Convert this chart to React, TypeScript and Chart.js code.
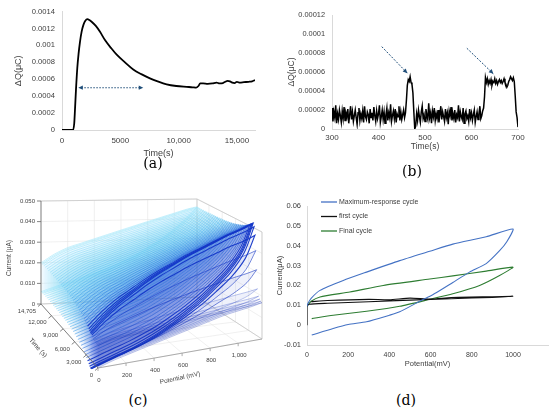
import React, { useEffect, useRef } from "react";
import { Chart, registerables } from "chart.js";

Chart.register(...registerables);

const SANS = "'Liberation Sans', Arial, sans-serif";
const SERIF = "'DejaVu Serif', 'Liberation Serif', serif";
const TEXT = "#404040";
const AXIS = "#d9d9d9";
const ARROW = "#1f4e79";

// ---- (a) charge vs time
const aTime = [0, 500, 950, 1050, 1110, 1200, 1310, 1420, 1540, 1680, 1830, 2000, 2170, 2350, 2540, 2900, 3260, 3700, 4200, 4690, 5400, 6110, 6800, 7540, 8200, 8970, 9800, 10690, 11200, 11500, 11700, 11850, 12100, 12500, 12900, 13260, 13500, 13800, 14000, 14200, 14400, 14600, 14800, 15000, 15250, 15600, 16000, 16300, 16550];
const aCharge = [0, 0, 0, 0.00008, 0.00023, 0.00048, 0.00073, 0.0009, 0.00104, 0.00116, 0.00124, 0.00129, 0.00131, 0.0013, 0.00128, 0.00123, 0.00116, 0.00106, 0.00097, 0.00089, 0.0008, 0.000716, 0.00066, 0.000611, 0.000575, 0.00054, 0.00052, 0.00051, 0.000505, 0.0005, 0.00052, 0.00055, 0.00055, 0.000545, 0.00055, 0.00056, 0.00055, 0.000555, 0.00057, 0.00058, 0.000575, 0.00056, 0.000555, 0.00057, 0.00056, 0.000565, 0.00057, 0.000575, 0.00059];
const aTimeTicks = [0, 5000, 10000, 15000];
const aArrow = { from: 1400, to: 6970, level: 0.0005 };

// ---- (b) charge vs time, sampled every 2 s from 300 s (values in 1e-6 μC)
const bStart = 300;
const bStep = 2;
const bCharge = [
  22, 8, 18, 12, 25, 6, 16, 10, 20, 14, 7, 19, 11, 23, 9, 17, 13, 21, 6, 15,
  24, 10, 18, 8, 14, 20, 12, 5, 17, 22, 9, 16, 11, 19, 7, 24, 13, 10, 18, 15,
  6, 21, 12, 17, 9, 23, 14, 8, 19, 11, 16, 25, 7, 13, 20, 10, 18, 6, 15, 22,
  9, 17, 12, 26, 8, 14, 19, 11, 21, 7, 16, 13, 24, 9, 18, 10, 15, 20, 12, 17,
  30, 46, 52, 50, 55, 49, 47, 38, 18, 0, 3,
  16, 9, 20, 13, 7, 18, 24, 11, 15, 8, 21, 14, 10, 27, 12, 17, 6, 19, 13, 22,
  9, 16, 11, 20, 7, 15, 24, 10, 18, 13, 8, 21, 12, 17, 5, 19, 14, 23, 9, 16,
  11, 20, 7, 15, 12, 25, 8, 18, 13, 10, 22, 6, 16, 19, 11, 14, 8, 21, 12, 17,
  9, 15, 20, 7, 13, 18, 10, 16, 24, 11, 14, 19, 22,
  34, 54, 49, 53, 47, 51, 48, 52, 46, 50, 49, 53, 48, 51, 47, 50, 52, 49, 51, 48,
  50, 53, 49, 47, 44, 46, 50, 52, 55, 53, 51, 54, 50, 35, 18, 12, 2,
];
const bArrows = [
  { x1: 407, y1: 86.7, x2: 462, y2: 58.8 },
  { x1: 590, y1: 85, x2: 647, y2: 58.1 },
];

// ---- (c) 3D cycles: shapes of an early, the maximum and a late cycle
const C_PMAX = 1170;
const C_TMAX = 14705;
const C_IMAX = 0.05;
const cPotential = [0, 100, 200, 300, 400, 500, 600, 700, 800, 900, 1000, 1100, 1170];
const cEarlyUpper = [0.010, 0.0115, 0.012, 0.0125, 0.013, 0.0135, 0.014, 0.0145, 0.015, 0.0155, 0.016, 0.0165, 0.017];
const cEarlyLower = [0.0, 0.002, 0.0035, 0.005, 0.0065, 0.008, 0.0095, 0.011, 0.0125, 0.014, 0.015, 0.016, 0.017];
const cPeakUpper = [0.012, 0.018, 0.023, 0.027, 0.031, 0.0345, 0.0375, 0.0405, 0.043, 0.0455, 0.048, 0.050, 0.052];
const cPeakLower = [-0.004, -0.002, 0.0, 0.002, 0.0045, 0.0075, 0.011, 0.015, 0.0195, 0.025, 0.031, 0.040, 0.052];
const cLateUpper = [0.02, 0.024, 0.027, 0.029, 0.031, 0.033, 0.035, 0.037, 0.039, 0.041, 0.043, 0.045, 0.046];
const cLateLower = [0.006, 0.008, 0.01, 0.012, 0.014, 0.016, 0.019, 0.022, 0.026, 0.03, 0.035, 0.041, 0.046];
const cycleTimes = [0, 250, 500, 750, 1000, 1200, 1400, 1600, 1800, 2000, 2200, 2400, 2700, 3000, 3300, 3600, 4000, 4400, 4800, 5200, 5600, 6000, 6400, 6800, 7200, 7600, 8000, 8400, 8800, 9200, 9600, 10000, 10400, 10800, 11200, 11600, 12000, 12400, 12800, 13200, 13600, 14000, 14300, 14500, 14705];
// 0 = early shape, 1 = maximum, 2 = late shape
const cyclePhase = [0, 0.01, 0.03, 0.06, 0.15, 0.4, 0.65, 0.85, 0.96, 1.0, 1.05, 1.12, 1.2, 1.28, 1.35, 1.42, 1.5, 1.56, 1.62, 1.67, 1.72, 1.76, 1.8, 1.83, 1.86, 1.88, 1.9, 1.92, 1.93, 1.94, 1.95, 1.96, 1.97, 1.97, 1.98, 1.98, 1.99, 1.99, 2, 2, 2, 2, 2, 2, 2];
const cCurrentTicks = [0, 0.01, 0.02, 0.03, 0.04, 0.05];
const cTimeTicks = [0, 3000, 6000, 9000, 12000, 14705];
const cPotentialTicks = [0, 200, 400, 600, 800, 1000];

// ---- (d) cyclic voltammograms
const dPotMax = [23, 127, 200, 289, 400, 450, 547, 586, 627, 708, 789, 870, 935, 970, 1000, 870, 708, 596, 450, 289, 176, 63, 20, 5, 0];
const dCurMax = [-0.005, -0.0017, 0.0003, 0.0017, 0.005, 0.0067, 0.012, 0.014, 0.0163, 0.0215, 0.0267, 0.031, 0.0375, 0.042, 0.0484, 0.0445, 0.0408, 0.0372, 0.0325, 0.0267, 0.0225, 0.0175, 0.0135, 0.011, 0.0095];
const dPotFirst = [0, 0, 10, 100, 300, 500, 700, 900, 1000, 900, 700, 600, 500, 400, 300, 100, 20];
const dCurFirst = [0, 0.0095, 0.0105, 0.011, 0.0118, 0.0126, 0.0133, 0.014, 0.0145, 0.0143, 0.0139, 0.0131, 0.0136, 0.0128, 0.013, 0.0124, 0.0118];
const dPotFinal = [23, 127, 289, 450, 596, 708, 838, 935, 1000, 870, 708, 596, 370, 208, 63, 20, 0];
const dCurFinal = [0.0033, 0.005, 0.007, 0.0095, 0.013, 0.0158, 0.02, 0.025, 0.0292, 0.0272, 0.0248, 0.0232, 0.02, 0.0167, 0.0142, 0.012, 0.0095];
const dPotTicks = [0, 200, 400, 600, 800, 1000];

const fmt = (v: number, d: number) => String(Number(v.toFixed(d)));
const zip = (xs: number[], ys: number[]) => xs.map((x, i) => ({ x, y: ys[i] }));
const fixedTicks = (values: number[]) => (s: any) => { s.ticks = values.map((value) => ({ value })); };

function arrowHead(ctx: CanvasRenderingContext2D, x1: number, y1: number, x2: number, y2: number, size: number) {
  const a = Math.atan2(y2 - y1, x2 - x1);
  ctx.beginPath();
  ctx.moveTo(x2, y2);
  ctx.lineTo(x2 - size * Math.cos(a - 0.45), y2 - size * Math.sin(a - 0.45));
  ctx.lineTo(x2 - size * Math.cos(a + 0.45), y2 - size * Math.sin(a + 0.45));
  ctx.closePath();
  ctx.fill();
}

function axisText(size: number) {
  return { font: { family: SANS, size }, color: TEXT };
}

function makeA(): any {
  const arrows = {
    id: "arrowA",
    afterDatasetsDraw(chart: any) {
      const { ctx, scales } = chart;
      const x1 = scales.x.getPixelForValue(aArrow.from);
      const x2 = scales.x.getPixelForValue(aArrow.to);
      const y = scales.y.getPixelForValue(aArrow.level);
      ctx.save();
      ctx.strokeStyle = ARROW;
      ctx.fillStyle = ARROW;
      ctx.lineWidth = 1.1;
      ctx.setLineDash([1.5, 1.5]);
      ctx.beginPath();
      ctx.moveTo(x1 + 3, y);
      ctx.lineTo(x2 - 3, y);
      ctx.stroke();
      ctx.setLineDash([]);
      arrowHead(ctx, x2, y, x1, y, 5);
      arrowHead(ctx, x1, y, x2, y, 5);
      ctx.restore();
    },
  };
  return {
    type: "scatter",
    data: {
      datasets: [{
        data: zip(aTime, aCharge), showLine: true, borderColor: "#000", borderWidth: 1.8,
        pointRadius: 0, tension: 0.4, cubicInterpolationMode: "monotone",
      }],
    },
    options: {
      animation: false, responsive: false,
      layout: { padding: { top: 9, right: 15, left: 0, bottom: 0 } },
      plugins: { legend: { display: false }, tooltip: { enabled: false } },
      scales: {
        x: {
          type: "linear", min: 0, max: 16550,
          border: { display: true, color: AXIS },
          grid: { display: false, drawTicks: false },
          afterBuildTicks: fixedTicks(aTimeTicks),
          ticks: { padding: 6, ...axisText(8),
            callback: (v: number) => (v >= 10000 ? v.toLocaleString("en-US") : String(v)) },
          title: { display: true, text: "Time(s)", ...axisText(9), padding: { top: 0, bottom: 1 } },
          afterFit: (s: any) => { s.height = 30; },
        },
        y: {
          min: 0, max: 0.0014,
          border: { display: true, color: AXIS },
          grid: { display: false, drawTicks: false },
          ticks: { stepSize: 0.0002, padding: 7, ...axisText(7.6), callback: (v: number) => fmt(v, 4) },
          title: { display: true, text: "ΔQ(μC)", ...axisText(9), padding: { top: 13, bottom: 0 } },
          afterFit: (s: any) => { s.width = 62; },
        },
      },
    },
    plugins: [arrows],
  };
}

function makeB(): any {
  const points = bCharge.map((v, i) => ({ x: bStart + i * bStep, y: v * 1e-6 }));
  const arrows = {
    id: "arrowB",
    afterDatasetsDraw(chart: any) {
      const { ctx, scales } = chart;
      ctx.save();
      ctx.strokeStyle = ARROW;
      ctx.fillStyle = ARROW;
      ctx.lineWidth = 1;
      bArrows.forEach((a) => {
        const x1 = scales.x.getPixelForValue(a.x1);
        const y1 = scales.y.getPixelForValue(a.y1 * 1e-6);
        const x2 = scales.x.getPixelForValue(a.x2);
        const y2 = scales.y.getPixelForValue(a.y2 * 1e-6);
        ctx.setLineDash([2, 1.5]);
        ctx.beginPath();
        ctx.moveTo(x1, y1);
        ctx.lineTo(x2, y2);
        ctx.stroke();
        ctx.setLineDash([]);
        arrowHead(ctx, x1, y1, x2, y2, 5);
      });
      ctx.restore();
    },
  };
  return {
    type: "scatter",
    data: {
      datasets: [{ data: points, showLine: true, borderColor: "#000", borderWidth: 1.5, pointRadius: 0 }],
    },
    options: {
      animation: false, responsive: false,
      layout: { padding: { top: 15, right: 32, left: 0, bottom: 0 } },
      plugins: { legend: { display: false }, tooltip: { enabled: false } },
      scales: {
        x: {
          type: "linear", min: 300, max: 700,
          border: { display: true, color: AXIS },
          grid: { display: false, drawTicks: false },
          ticks: { stepSize: 100, padding: 4, ...axisText(8) },
          title: { display: true, text: "Time(s)", ...axisText(8.5), padding: { top: 0, bottom: 8 } },
          afterFit: (s: any) => { s.height = 31; },
        },
        y: {
          min: 0, max: 0.00012,
          border: { display: true, color: AXIS },
          grid: { display: false, drawTicks: false },
          ticks: { stepSize: 0.00002, padding: 7, ...axisText(7.4), callback: (v: number) => fmt(v, 5) },
          title: { display: true, text: "ΔQ(μC)", ...axisText(8.5), padding: { top: 12, bottom: 0 } },
          afterFit: (s: any) => { s.width = 57; },
        },
      },
    },
    plugins: [arrows],
  };
}

// floor corners of the 3D box (page px) and height in px of the full current range
const C_FLOOR = { A: [98, 368], B: [262, 339], C: [41, 304], D: [197, 297] };
const C_HEIGHT = { A: 112, B: 107, C: 103, D: 98 };

function proj(P: number, T: number, I: number) {
  const p = P / C_PMAX;
  const t = T / C_TMAX;
  const wA = (1 - p) * (1 - t), wB = p * (1 - t), wC = (1 - p) * t, wD = p * t;
  const { A, B, C, D } = C_FLOOR;
  const x = wA * A[0] + wB * B[0] + wC * C[0] + wD * D[0];
  const yf = wA * A[1] + wB * B[1] + wC * C[1] + wD * D[1];
  const h = wA * C_HEIGHT.A + wB * C_HEIGHT.B + wC * C_HEIGHT.C + wD * C_HEIGHT.D;
  return { x, y: yf - (I / C_IMAX) * h };
}

const colorStops = [
  [0, 20, 45, 175],
  [0.12, 25, 60, 205],
  [0.3, 45, 125, 225],
  [0.55, 90, 190, 238],
  [1, 165, 232, 250],
];
function cycleColor(t: number, alpha: number) {
  for (let i = 1; i < colorStops.length; i++) {
    const [t1, r1, g1, b1] = colorStops[i];
    const [t0, r0, g0, b0] = colorStops[i - 1];
    if (t <= t1) {
      const f = (t - t0) / (t1 - t0);
      return `rgba(${Math.round(r0 + f * (r1 - r0))},${Math.round(g0 + f * (g1 - g0))},${Math.round(b0 + f * (b1 - b0))},${alpha})`;
    }
  }
  return `rgba(165,232,250,${alpha})`;
}

function cycleCurrent(phase: number, j: number, upper: boolean) {
  const e = upper ? cEarlyUpper[j] : cEarlyLower[j];
  const m = upper ? cPeakUpper[j] : cPeakLower[j];
  const l = upper ? cLateUpper[j] : cLateLower[j];
  return phase <= 1 ? e + phase * (m - e) : m + (phase - 1) * (l - m);
}

function makeC(): any {
  const datasets = cycleTimes.map((T, k) => {
    const ph = cyclePhase[k];
    const pts: { x: number; y: number }[] = [];
    cPotential.forEach((P, j) => pts.push(proj(P, T, cycleCurrent(ph, j, false))));
    for (let j = cPotential.length - 1; j >= 0; j--) {
      pts.push(proj(cPotential[j], T, cycleCurrent(ph, j, true)));
    }
    const t = T / C_TMAX;
    const early = ph < 0.3;
    const nearPeak = ph > 0.8 && ph < 1.25;
    return {
      data: pts, showLine: true,
      borderColor: nearPeak ? "rgba(20,55,200,0.95)" : cycleColor(t, early ? 0.55 : 0.85),
      backgroundColor: cycleColor(t, 0.07),
      fill: "shape", borderWidth: nearPeak ? 1.1 : early ? 0.5 : 0.7, pointRadius: 0, tension: 0.3,
    };
  });

  const seg = (chart: any, a: number[], b: number[]) => {
    const { ctx, scales } = chart;
    const p1 = proj(a[0], a[1], a[2]);
    const p2 = proj(b[0], b[1], b[2]);
    ctx.beginPath();
    ctx.moveTo(scales.x.getPixelForValue(p1.x), scales.y.getPixelForValue(p1.y));
    ctx.lineTo(scales.x.getPixelForValue(p2.x), scales.y.getPixelForValue(p2.y));
    ctx.stroke();
  };
  const at = (chart: any, P: number, T: number, I: number) => {
    const p = proj(P, T, I);
    return [chart.scales.x.getPixelForValue(p.x), chart.scales.y.getPixelForValue(p.y)];
  };
  const label = (ctx: CanvasRenderingContext2D, text: string, x: number, y: number, rot: number, align: CanvasTextAlign) => {
    ctx.save();
    ctx.translate(x, y);
    ctx.rotate(rot);
    ctx.textAlign = align;
    ctx.textBaseline = "middle";
    ctx.fillText(text, 0, 0);
    ctx.restore();
  };

  const box = {
    id: "box3d",
    beforeDatasetsDraw(chart: any) {
      const { ctx } = chart;
      ctx.save();
      ctx.strokeStyle = "#e6e6e6";
      ctx.lineWidth = 0.6;
      cCurrentTicks.forEach((I) => {
        seg(chart, [0, C_TMAX, I], [C_PMAX, C_TMAX, I]);
        seg(chart, [C_PMAX, 0, I], [C_PMAX, C_TMAX, I]);
      });
      cPotentialTicks.forEach((P) => {
        seg(chart, [P, C_TMAX, 0], [P, C_TMAX, C_IMAX]);
        seg(chart, [P, 0, 0], [P, C_TMAX, 0]);
      });
      cTimeTicks.forEach((T) => {
        seg(chart, [C_PMAX, T, 0], [C_PMAX, T, C_IMAX]);
        seg(chart, [0, T, 0], [C_PMAX, T, 0]);
      });
      ctx.strokeStyle = "#c8c8c8";
      ctx.lineWidth = 0.8;
      seg(chart, [0, C_TMAX, C_IMAX], [C_PMAX, C_TMAX, C_IMAX]);
      seg(chart, [C_PMAX, C_TMAX, 0], [C_PMAX, C_TMAX, C_IMAX]);
      seg(chart, [C_PMAX, C_TMAX, C_IMAX], [C_PMAX, 0, C_IMAX]);
      seg(chart, [C_PMAX, 0, 0], [C_PMAX, 0, C_IMAX]);
      seg(chart, [0, C_TMAX, 0], [C_PMAX, C_TMAX, 0]);
      seg(chart, [C_PMAX, C_TMAX, 0], [C_PMAX, 0, 0]);
      ctx.restore();
    },
    afterDatasetsDraw(chart: any) {
      const { ctx } = chart;
      ctx.save();
      ctx.strokeStyle = "#666";
      ctx.fillStyle = "#444";
      ctx.lineWidth = 0.8;
      ctx.font = `6px ${SANS}`;
      seg(chart, [0, C_TMAX, 0], [0, C_TMAX, C_IMAX]);
      cCurrentTicks.forEach((I) => {
        const [x, y] = at(chart, 0, C_TMAX, I);
        ctx.beginPath();
        ctx.moveTo(x - 4, y);
        ctx.lineTo(x, y);
        ctx.stroke();
        label(ctx, I === 0 ? "0" : I.toFixed(3), x - 6, y, 0, "right");
      });
      seg(chart, [0, 0, 0], [0, C_TMAX, 0]);
      cTimeTicks.forEach((T) => {
        const [x, y] = at(chart, 0, T, 0);
        ctx.beginPath();
        ctx.moveTo(x, y);
        ctx.lineTo(x - 3, y + 2.5);
        ctx.stroke();
        label(ctx, T.toLocaleString("en-US"), x - 5, y + 7, 0, "right");
      });
      ctx.strokeStyle = "#999";
      seg(chart, [0, 0, 0], [C_PMAX, 0, 0]);
      cPotentialTicks.forEach((P) => {
        const [x, y] = at(chart, P, 0, 0);
        ctx.beginPath();
        ctx.moveTo(x, y);
        ctx.lineTo(x, y + 3);
        ctx.stroke();
        label(ctx, P.toLocaleString("en-US"), x + 1, y + 12, 0, "center");
      });
      ctx.font = `6.5px ${SANS}`;
      const sx = chart.scales.x, sy = chart.scales.y;
      label(ctx, "Current (μA)", sx.getPixelForValue(9), sy.getPixelForValue(258), -Math.PI / 2, "center");
      label(ctx, "Time (s)", sx.getPixelForValue(38), sy.getPixelForValue(348), (48 * Math.PI) / 180, "center");
      label(ctx, "Potential (mV)", sx.getPixelForValue(180), sy.getPixelForValue(378), (-12 * Math.PI) / 180, "center");
      ctx.restore();
    },
  };

  return {
    type: "scatter",
    data: { datasets },
    options: {
      animation: false, responsive: false,
      layout: { padding: 0 },
      plugins: { legend: { display: false }, tooltip: { enabled: false } },
      scales: {
        x: { type: "linear", min: 0, max: 275, display: false },
        y: { type: "linear", min: 195, max: 390, reverse: true, display: false },
      },
    },
    plugins: [box],
  };
}

function makeD(): any {
  const series = [
    { label: "Maximum-response cycle", color: "#4472c4", data: zip(dPotMax, dCurMax) },
    { label: "first cycle", color: "#111111", data: zip(dPotFirst, dCurFirst) },
    { label: "Final cycle", color: "#2e7d32", data: zip(dPotFinal, dCurFinal) },
  ];
  const legend = {
    id: "legendD",
    afterDraw(chart: any) {
      const { ctx } = chart;
      ctx.save();
      ctx.font = `7px ${SANS}`;
      ctx.textBaseline = "middle";
      ctx.fillStyle = TEXT;
      chart.data.datasets.forEach((ds: any, i: number) => {
        const y = 7 + i * 14.5;
        ctx.strokeStyle = ds.borderColor;
        ctx.lineWidth = 1.3;
        ctx.beginPath();
        ctx.moveTo(46, y);
        ctx.lineTo(62, y);
        ctx.stroke();
        ctx.fillText(ds.label, 64, y);
      });
      ctx.restore();
    },
  };
  return {
    type: "scatter",
    data: {
      datasets: series.map((s) => ({
        label: s.label, data: s.data, showLine: true, borderColor: s.color, borderWidth: 1.1,
        pointRadius: 0, tension: 0.2,
      })),
    },
    options: {
      animation: false, responsive: false,
      layout: { padding: { top: 11, right: 2, left: 0, bottom: 0 } },
      plugins: { legend: { display: false }, tooltip: { enabled: false } },
      scales: {
        x: {
          type: "linear", min: 0, max: 1170,
          border: { display: true, color: AXIS },
          grid: { display: false, drawTicks: false },
          afterBuildTicks: fixedTicks(dPotTicks),
          ticks: { padding: 6, ...axisText(7), callback: (v: number) => String(v) },
          title: { display: true, text: "Potential(mV)", ...axisText(7.5), padding: { top: 0, bottom: 1.5 } },
          afterFit: (s: any) => { s.height = 25; },
        },
        y: {
          min: -0.01, max: 0.06,
          border: { display: true, color: AXIS },
          grid: { display: false, drawTicks: false },
          ticks: { stepSize: 0.01, padding: 6, ...axisText(7.5), callback: (v: number) => fmt(v, 2) },
          title: { display: true, text: "Current(μA)", ...axisText(7.5), padding: { top: 0, bottom: 0 } },
          afterFit: (s: any) => { s.width = 32; },
        },
      },
    },
    plugins: [legend],
  };
}

type BoxProps = { make: () => any; left: number; top: number; width: number; height: number };

function ChartBox({ make, left, top, width, height }: BoxProps) {
  const ref = useRef<HTMLCanvasElement | null>(null);
  useEffect(() => {
    if (!ref.current) return;
    const chart = new Chart(ref.current, make());
    return () => chart.destroy();
  }, [make]);
  return (
    <canvas ref={ref} width={width} height={height}
      style={{ position: "absolute", left, top, width, height }} />
  );
}

function Caption({ text, x, y }: { text: string; x: number; y: number }) {
  return (
    <div style={{
      position: "absolute", left: x, top: y, transform: "translate(-50%, -50%)",
      fontFamily: SERIF, fontSize: 14, color: "#000", lineHeight: 1, whiteSpace: "nowrap",
    }}>{text}</div>
  );
}

export default function App() {
  return (
    <div style={{ position: "absolute", left: 0, top: 0, width: 550, height: 410, background: "#fff", overflow: "hidden" }}>
      <ChartBox make={makeA} left={0} top={0} width={270} height={160} />
      <ChartBox make={makeB} left={275} top={0} width={275} height={160} />
      <ChartBox make={makeC} left={0} top={195} width={275} height={195} />
      <ChartBox make={makeD} left={275} top={195} width={275} height={175} />
      <Caption text="(a)" x={153} y={163} />
      <Caption text="(b)" x={412} y={171} />
      <Caption text="(c)" x={138} y={400} />
      <Caption text="(d)" x={406} y={400} />
    </div>
  );
}
